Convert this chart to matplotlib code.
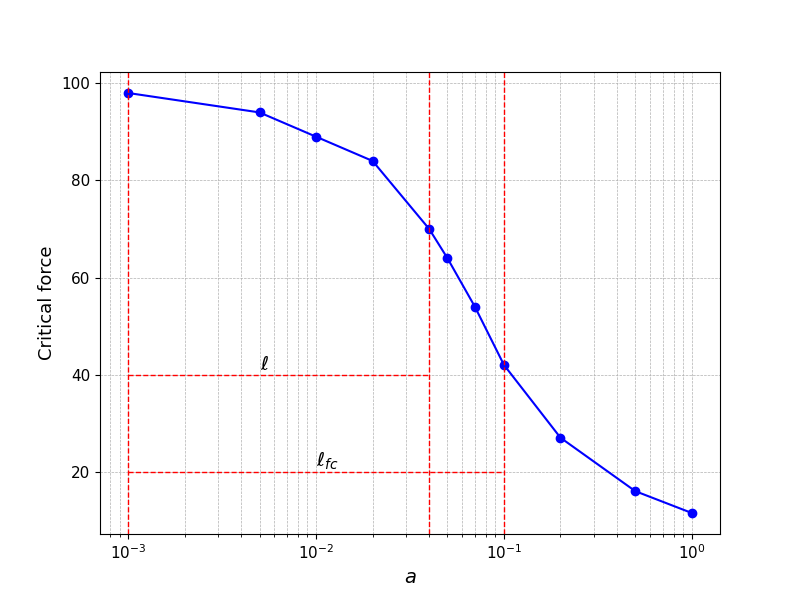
import matplotlib
matplotlib.use("Agg")
import matplotlib.pyplot as plt

a_values = [0.001, 0.005, 0.01, 0.02, 0.04, 0.05, 0.07, 0.1, 0.2, 0.5, 1.0]
critical_force = [98, 94, 89, 84, 70, 64, 54, 42, 27, 16, 11.5]

ell = 0.04
ell_fc = 0.1
a_min = 0.001

fig, ax = plt.subplots(figsize=(8, 6), dpi=100)
ax.plot(a_values, critical_force, "o-", color="blue")
ax.set_xscale("log")

for xv in [a_min, ell, ell_fc]:
    ax.axvline(xv, color="red", linestyle="--", linewidth=1)
ax.hlines(40, a_min, ell, colors="red", linestyles="--", linewidth=1)
ax.hlines(20, a_min, ell_fc, colors="red", linestyles="--", linewidth=1)
ax.text(0.005, 41, r"$\ell$", fontsize=14)
ax.text(0.01, 21, r"$\ell_{fc}$", fontsize=14)

ax.set_xlabel(r"$a$", fontsize=14)
ax.set_ylabel("Critical force", fontsize=13)
ax.tick_params(labelsize=11)
ax.grid(True, which="both", linestyle="--", linewidth=0.5)

fig.savefig("out.png")
